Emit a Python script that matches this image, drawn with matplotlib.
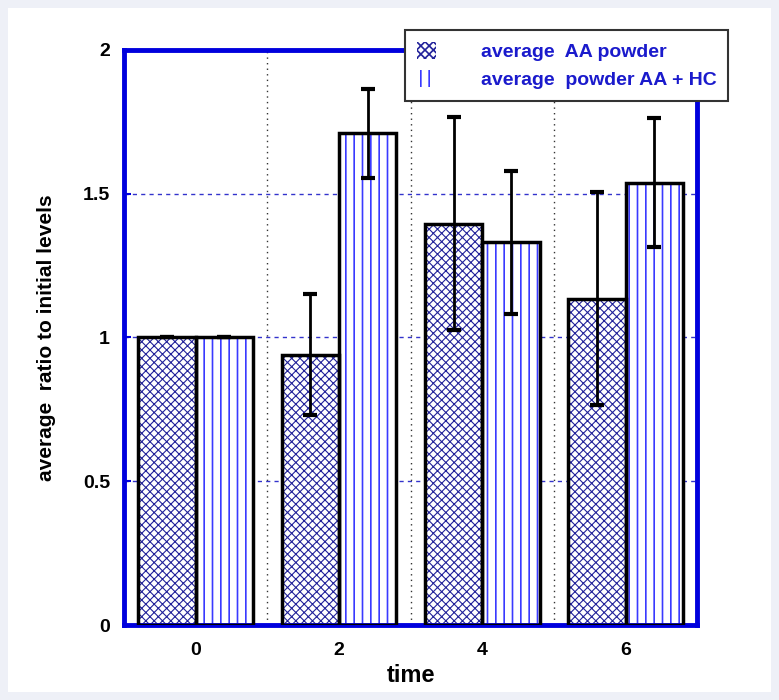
import matplotlib.pyplot as plt
from matplotlib.patches import Patch, Rectangle

# data
times = [0, 2, 4, 6]
aa_powder = [1.0, 0.94, 1.395, 1.135]
aa_powder_err = [0.0, 0.21, 0.37, 0.37]
aa_hc = [1.0, 1.71, 1.33, 1.537]
aa_hc_err = [0.0, 0.155, 0.25, 0.224]
labels = ['average  AA powder', 'average  powder AA + HC']

BLUE = '#0000dd'
NAVY = '#22229a'
LINEBLUE = '#3a3aff'

plt.rcParams['font.family'] = ['Liberation Sans', 'DejaVu Sans']

fig = plt.figure(figsize=(7.79, 7.0), dpi=100, facecolor='white')
# pale frame around the picture
fig.patches.append(Rectangle((0, 0), 1, 1, transform=fig.transFigure,
                             fill=False, edgecolor='#eef0f7', linewidth=11.5))
ax = fig.add_axes([0.159, 0.107, 0.736, 0.822])

w = 0.8
x1 = [t - w for t in times]
# hatch fills (hatch takes the edge colour), then black outlines on top
plt.rcParams['hatch.linewidth'] = 0.8
ax.bar(x1, aa_powder, width=w, align='edge', color='white',
       edgecolor=NAVY, hatch='xxxx', linewidth=0, zorder=2)
h1 = Patch(facecolor='white', edgecolor=NAVY, hatch='xxxx', linewidth=0)
plt.rcParams['hatch.linewidth'] = 1.2
ax.bar(times, aa_hc, width=w, align='edge', color='white',
       edgecolor=LINEBLUE, hatch='||', linewidth=0, zorder=2)
h2 = Patch(facecolor='white', edgecolor=LINEBLUE, hatch='||', linewidth=0)
ax.bar(x1, aa_powder, width=w, align='edge', fill=False,
       edgecolor='black', linewidth=2.5, zorder=3)
ax.bar(times, aa_hc, width=w, align='edge', fill=False,
       edgecolor='black', linewidth=2.5, zorder=3)

# error bars
ax.errorbar([t - w / 2 for t in times], aa_powder, yerr=aa_powder_err,
            fmt='none', ecolor='black', elinewidth=2, capsize=5, capthick=3, zorder=4)
ax.errorbar([t + w / 2 for t in times], aa_hc, yerr=aa_hc_err,
            fmt='none', ecolor='black', elinewidth=2, capsize=5, capthick=3, zorder=4)

# grid
for gx in [1, 3, 5]:
    ax.axvline(gx, color='#333333', linestyle=(0, (1, 3)), linewidth=1, zorder=1)
for gy in [0.5, 1.0, 1.5]:
    ax.axhline(gy, color='#3333cc', linestyle=(0, (3, 3)), linewidth=1, zorder=1)

ax.set_xlim(-1, 7)
ax.set_ylim(0, 2)
ax.set_xticks(times)
ax.set_yticks([0, 0.5, 1, 1.5, 2])
ax.set_yticklabels(['0', '0.5', '1', '1.5', '2'])
ax.tick_params(axis='both', direction='in', colors=BLUE, length=5, width=1.5,
               labelcolor='black', labelsize=14)
ax.tick_params(axis='x', pad=12)
ax.tick_params(axis='y', pad=10)
for lab in ax.get_xticklabels() + ax.get_yticklabels():
    lab.set_fontweight('bold')
for sp in ax.spines.values():
    sp.set_color(BLUE)
    sp.set_linewidth(3.5)

ax.set_xlabel('time', fontsize=17, fontweight='bold', labelpad=4)
ax.set_ylabel('average  ratio to initial levels', fontsize=15, fontweight='bold', labelpad=19)

leg = fig.legend([h1, h2], labels, loc='upper left', bbox_to_anchor=(0.52, 0.957),
                 frameon=True, fancybox=False, edgecolor='#333333', fontsize=14,
                 framealpha=1, handlelength=1.0, handleheight=1.0, handletextpad=2.3,
                 borderpad=0.6, labelspacing=0.45, borderaxespad=0)
leg.get_frame().set_linewidth(1.5)
for txt in leg.get_texts():
    txt.set_color('#1a1acc')
    txt.set_fontweight('bold')

fig.savefig('out.png', dpi=100, facecolor='white')
